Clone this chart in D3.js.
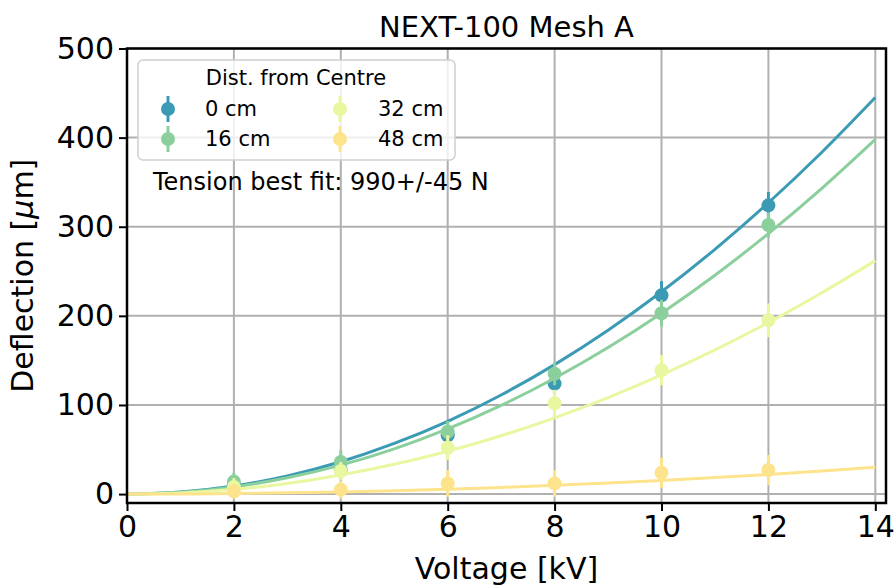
<!DOCTYPE html>
<html><head><meta charset="utf-8">
<script src="https://cdn.jsdelivr.net/npm/d3@7"></script>
<style>html,body{margin:0;padding:0;background:#fff;} text{font-family:"DejaVu Sans",sans-serif;}</style>
</head><body><svg id="c" width="896" height="586"></svg>
<script>
const voltages = [2, 4, 6, 8, 10, 12];
const seriesNames = ["0 cm", "16 cm", "32 cm", "48 cm"];
const colors = ["#3b9bb4", "#8bcf9c", "#e9f7a1", "#fde38c"];
const meas0 = [10, 27, 66, 124, 223, 324];
const meas16 = [14, 36, 70, 135, 203, 302];
const meas32 = [8, 26, 52, 102, 139, 195];
const meas48 = [3, 5, 12, 12, 24, 27];
const err0 = [8, 10, 12, 12, 16, 15];
const err16 = [10, 13, 12, 13, 15, 14];
const err32 = [10, 10, 14, 15, 17, 19];
const err48 = [8, 10, 15, 15, 17, 17];
const fitV = [0, 1, 2, 3, 4, 5, 6, 7, 8, 9, 10, 11, 12, 13, 14];
const fit0 = [0, 2.3, 9.1, 20.4, 36.3, 56.8, 81.7, 111.2, 145.3, 183.9, 227, 274.7, 326.9, 383.6, 445];
const fit16 = [0, 2.0, 8.1, 18.3, 32.5, 50.8, 73.1, 99.5, 130, 164.4, 203, 245.6, 292.3, 343.1, 398];
const fit32 = [0, 1.3, 5.3, 12.0, 21.4, 33.4, 48.1, 65.5, 85.6, 108.3, 133.7, 161.8, 192.5, 226, 262];
const fit48 = [0, 0.15, 0.6, 1.4, 2.4, 3.8, 5.5, 7.5, 9.8, 12.4, 15.3, 18.5, 22, 25.9, 30];
const xTicks = [0, 2, 4, 6, 8, 10, 12, 14];
const yTicks = [0, 100, 200, 300, 400, 500];
const titleText = "NEXT-100 Mesh A";
const xLabel = "Voltage [kV]";
const yLabelParts = ["Deflection [", "\u03bc", "m]"];
const legendTitle = "Dist. from Centre";
const annotation = "Tension best fit: 990+/-45 N";

const meas = [meas0, meas16, meas32, meas48];
const errs = [err0, err16, err32, err48];
const fits = [fit0, fit16, fit32, fit48];

const svg = d3.select("#c");
const L = 127, R = 886, T = 48.5, B = 503;
const x = d3.scaleLinear().domain([0, 14.2]).range([L, R]);
const y = d3.scaleLinear().domain([-10, 500]).range([B, T]);

// grid
const g = svg.append("g");
g.selectAll(".gx").data(xTicks).enter().append("line")
  .attr("x1", d => x(d)).attr("x2", d => x(d)).attr("y1", T).attr("y2", B)
  .attr("stroke", "#b0b0b0").attr("stroke-width", 2);
g.selectAll(".gy").data(yTicks).enter().append("line")
  .attr("x1", L).attr("x2", R).attr("y1", d => y(d)).attr("y2", d => y(d))
  .attr("stroke", "#b0b0b0").attr("stroke-width", 2);

// data
const plot = svg.append("g");
const line = d3.line().x((d, i) => x(fitV[i])).y(d => y(d)).curve(d3.curveMonotoneX);
seriesNames.forEach((name, s) => {
  const grp = plot.append("g");
  const pts = voltages.map((v, i) => ({v, m: meas[s][i], e: errs[s][i]}));
  grp.selectAll("line.eb").data(pts).enter().append("line")
    .attr("x1", d => x(d.v)).attr("x2", d => x(d.v))
    .attr("y1", d => y(d.m - d.e)).attr("y2", d => y(d.m + d.e))
    .attr("stroke", colors[s]).attr("stroke-width", 3);
  grp.selectAll("circle").data(pts).enter().append("circle")
    .attr("cx", d => x(d.v)).attr("cy", d => y(d.m)).attr("r", 7)
    .attr("fill", colors[s]);
  grp.append("path").datum(fits[s]).attr("d", line)
    .attr("fill", "none").attr("stroke", colors[s]).attr("stroke-width", 3);
});

// frame
svg.append("rect").attr("x", L).attr("y", T).attr("width", R - L).attr("height", B - T)
  .attr("fill", "none").attr("stroke", "#000").attr("stroke-width", 2.5);

// axes
const xAxis = d3.axisBottom(x).tickValues(xTicks).tickSize(8).tickPadding(5).tickFormat(d3.format("d"));
const yAxis = d3.axisLeft(y).tickValues(yTicks).tickSize(8).tickPadding(5).tickFormat(d3.format("d"));
const gx = svg.append("g").attr("transform", `translate(0,${B})`).call(xAxis);
const gy = svg.append("g").attr("transform", `translate(${L},0)`).call(yAxis);
[gx, gy].forEach(a => {
  a.select(".domain").remove();
  a.selectAll(".tick line").attr("stroke", "#000").attr("stroke-width", 2);
  a.selectAll(".tick text").attr("fill", "#000").style("font-size", "30px").style("font-family", "DejaVu Sans");
});

// labels
svg.append("text").attr("x", (L + R) / 2).attr("y", 37).attr("text-anchor", "middle")
  .style("font-size", "29px").text(titleText);
svg.append("text").attr("x", (L + R) / 2).attr("y", 579).attr("text-anchor", "middle")
  .style("font-size", "30px").text(xLabel);
const yl = svg.append("text").attr("transform", `translate(33,${(T + B) / 2}) rotate(-90)`).attr("text-anchor", "middle")
  .style("font-size", "30px");
yLabelParts.forEach((p, i) => yl.append("tspan").style("font-style", i === 1 ? "italic" : "normal").text(p));

// legend
const lg = svg.append("g");
lg.append("rect").attr("x", 138).attr("y", 60).attr("width", 317).attr("height", 100).attr("rx", 5)
  .attr("fill", "#fff").attr("fill-opacity", 0.8).attr("stroke", "#d0d0d0").attr("stroke-width", 1.5);
lg.append("text").attr("x", 296).attr("y", 85).attr("text-anchor", "middle").style("font-size", "21px").text(legendTitle);
const legPos = [[168, 109], [168, 139], [340, 109], [340, 139]];
const legTextX = [205, 205, 378, 378];
seriesNames.forEach((name, s) => {
  const [mx, my] = legPos[s];
  lg.append("line").attr("x1", mx).attr("x2", mx).attr("y1", my - 13).attr("y2", my + 13)
    .attr("stroke", colors[s]).attr("stroke-width", 3);
  lg.append("circle").attr("cx", mx).attr("cy", my).attr("r", 7).attr("fill", colors[s]);
  lg.append("text").attr("x", legTextX[s]).attr("y", my + 7).style("font-size", "21px").text(name);
});
svg.append("text").attr("x", 153).attr("y", 190).style("font-size", "24px").text(annotation);
</script></body></html>
